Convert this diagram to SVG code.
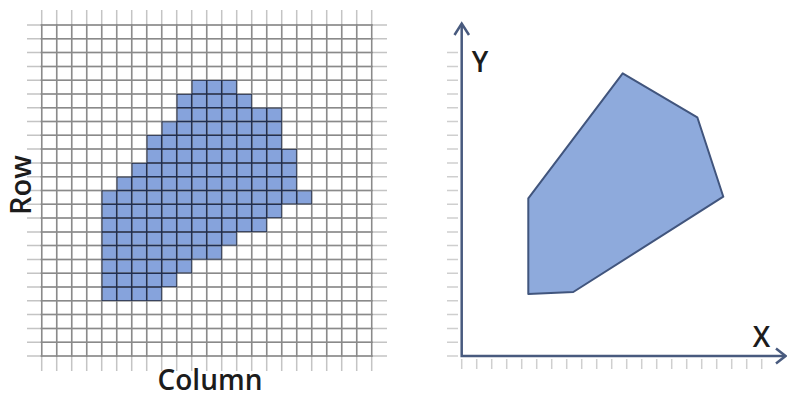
<svg xmlns="http://www.w3.org/2000/svg" xmlns:xlink="http://www.w3.org/1999/xlink" width="787" height="399" viewBox="0 0 787 399">
  <style>
    .lbl { font-family: "Open Sans", "Liberation Sans", sans-serif; font-weight: 600; fill: #1c1c1c; }
    .grid { fill: none; stroke-width: 1.5; }
    .tick { fill: none; stroke: #cfcfcf; stroke-width: 1.5; }
    .axis { fill: none; stroke: #485a7e; stroke-width: 2.5; stroke-linejoin: miter; }
  </style>
  <defs>
    <path id="gv" d="M41.7 10V371M56.7 10V371M71.7 10V371M86.7 10V371M101.7 10V371M116.7 10V371M131.7 10V371M146.7 10V371M161.7 10V371M176.7 10V371M191.7 10V371M206.7 10V371M221.7 10V371M236.7 10V371M251.7 10V371M266.7 10V371M281.7 10V371M296.7 10V371M311.7 10V371M326.7 10V371M341.7 10V371M356.7 10V371M371.7 10V371"/>
    <path id="gh" d="M27 25H387M27 38.8H387M27 52.6H387M27 66.4H387M27 80.2H387M27 94H387M27 107.7H387M27 121.5H387M27 135.3H387M27 149.1H387M27 162.9H387M27 176.7H387M27 190.5H387M27 204.3H387M27 218.1H387M27 231.9H387M27 245.6H387M27 259.4H387M27 273.2H387M27 287H387M27 300.8H387M27 314.6H387M27 328.4H387M27 342.2H387M27 356H387"/>
    <path id="cells" d="M191.7 80.2H236.7V94H251.7V107.7H281.7V149.1H296.7V190.5H311.7V204.3H281.7V218.1H266.7V231.9H236.7V245.6H221.7V259.4H191.7V273.2H176.7V287H161.7V300.8H101.7V190.5H116.7V176.7H131.7V162.9H146.7V135.3H161.7V121.5H176.7V94H191.7Z"/>
    <clipPath id="box"><rect x="40.6" y="24" width="332.2" height="333"/></clipPath>
    <clipPath id="blueclip"><use xlink:href="#cells"/></clipPath>
  </defs>

  <g id="raster">
    <use xlink:href="#cells" fill="#86a3dc"/>
    <g class="grid">
      <use xlink:href="#gv" stroke="#c4c4c4"/>
      <use xlink:href="#gh" stroke="#c4c4c4"/>
      <use xlink:href="#gv" stroke="#8a8a8a" clip-path="url(#box)"/>
      <use xlink:href="#gh" stroke="#8a8a8a" clip-path="url(#box)"/>
      <use xlink:href="#gv" stroke="#1f2e52" clip-path="url(#blueclip)"/>
      <use xlink:href="#gh" stroke="#1f2e52" clip-path="url(#blueclip)"/>
    </g>
    <text class="lbl" x="0" y="0" font-size="29" text-anchor="middle" transform="translate(31 185) rotate(-90)">Row</text>
    <text class="lbl" x="210" y="390" font-size="28" text-anchor="middle">Column</text>
  </g>

  <g id="vector">
    <path class="tick" d="M447 356H458M447 342.2H458M447 328.4H458M447 314.6H458M447 300.8H458M447 287H458M447 273.2H458M447 259.4H458M447 245.6H458M447 231.9H458M447 218.1H458M447 204.3H458M447 190.5H458M447 176.7H458M447 162.9H458M447 149.1H458M447 135.3H458M447 121.5H458M447 107.7H458M447 94H458M447 80.2H458M447 66.4H458M447 52.6H458"/>
    <path class="tick" d="M461.7 359V369M476.7 359V369M491.7 359V369M506.7 359V369M521.7 359V369M536.7 359V369M551.7 359V369M566.7 359V369M581.7 359V369M596.7 359V369M611.7 359V369M626.7 359V369M641.7 359V369M656.7 359V369M671.7 359V369M686.7 359V369M701.7 359V369M716.7 359V369M731.7 359V369M746.7 359V369M761.7 359V369"/>
    <g id="connectors">
      <path class="axis" d="M461.7 24V356H785"/>
      <path class="axis" d="M454.5 35L461.7 23.5L469 35"/>
      <path class="axis" d="M776 348.5L785.5 356L776 363.5"/>
    </g>
    <path id="polygon" d="M528.3 198.3L622.7 73.3L697.3 117.3L723.3 196.7L573.3 292L528.3 294Z" fill="#8eaadc" stroke="#41557d" stroke-width="2" stroke-linejoin="round"/>
    <text class="lbl" x="480" y="71.7" font-size="28" text-anchor="middle">Y</text>
    <text class="lbl" x="761.5" y="346.5" font-size="28" text-anchor="middle">X</text>
  </g>
</svg>
